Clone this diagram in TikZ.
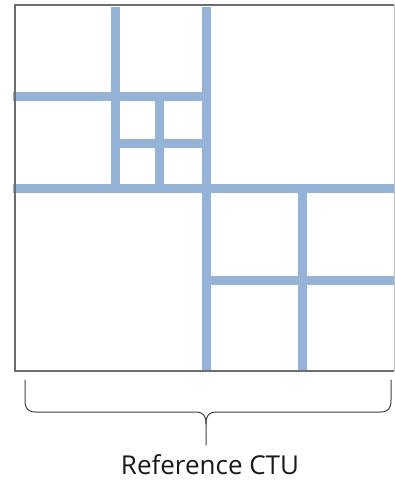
\documentclass[tikz,border=0pt]{standalone}
\usepackage{fontspec}
\setmainfont{Open Sans}
\usetikzlibrary{calc}
\definecolor{cut}{HTML}{95B3D7}
\definecolor{frm}{HTML}{6E6E6E}
\tikzset{
  split/.style={draw=cut,line width=9pt},
  frame/.style={draw=frm,line width=1.5pt},
  brc/.style={draw=black!75,line width=1pt,line cap=round},
}
\begin{document}
\begin{tikzpicture}[x=1pt,y=-1pt]
  \useasboundingbox (0,0) rectangle (395,481);
  \coordinate (nw) at (15,5);
  \coordinate (se) at (394,371);
  % quad-tree splits of the CTU
  \draw[split] (206,7) -- (206,371);
  \draw[split] (13,188) -- (395,188);
  \draw[split] (115,7) -- (115,188);
  \draw[split] (13,97) -- (206,97);
  \draw[split] (159,97) -- (159,188);
  \draw[split] (115,144) -- (206,144);
  \draw[split] (302,188) -- (302,371);
  \draw[split] (206,280) -- (395,280);
  \draw[frame,draw=black!25,line width=1pt] (nw -| se) -- (se);
  \draw[frame] (nw -| se) -- (nw) -- (nw |- se) -- (se);
  % brace under the block
  \draw[brc] (25,380) -- (25,400) .. controls (25,409) and (28,412) .. (36,412)
    -- (195,412) .. controls (203,412) and (206,415) .. (206,424) -- (206,445);
  \draw[brc] (206,424) .. controls (206,415) and (209,412) .. (217,412)
    -- (380,412) .. controls (388,412) and (391,409) .. (391,400) -- (391,380);
  \node[font=\fontsize{26}{30}\selectfont,anchor=base,inner sep=0pt,text depth=0pt,text=black!90] (lbl) at (210,474) {Reference CTU};
\end{tikzpicture}
\end{document}
